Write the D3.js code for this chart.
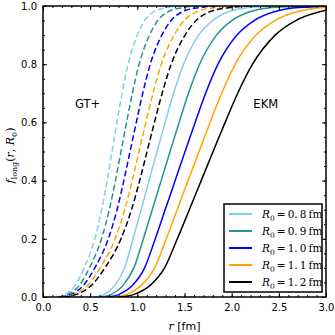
<!DOCTYPE html>
<html>
<head>
<meta charset="utf-8">
<script src="https://cdn.jsdelivr.net/npm/d3@7"></script>
<style>
  body { margin: 0; background: #fff; }
  text { font-family: "DejaVu Sans", sans-serif; }
  .math { font-family: "DejaVu Serif", serif; }
</style>
</head>
<body>
<svg id="chart"></svg>
<script>
// f values shared by every curve, r [fm] where each curve reaches them
const fLevels = [0, 0.01, 0.04, 0.1, 0.2, 0.3, 0.4, 0.5, 0.6, 0.7, 0.8, 0.9, 0.95, 0.98, 0.995, 1.0];

const radii = ["0.8", "0.9", "1.0", "1.1", "1.2"];

// GT+ (dashed)
const gt_08 = [0.146, 0.242, 0.340, 0.436, 0.549, 0.622, 0.680, 0.732, 0.784, 0.838, 0.902, 0.999, 1.077, 1.171, 1.318, 1.464];
const gt_09 = [0.165, 0.273, 0.385, 0.492, 0.620, 0.703, 0.768, 0.827, 0.886, 0.947, 1.019, 1.129, 1.217, 1.323, 1.489, 1.654];
const gt_10 = [0.185, 0.305, 0.429, 0.549, 0.692, 0.785, 0.857, 0.923, 0.989, 1.057, 1.137, 1.260, 1.358, 1.477, 1.661, 1.846];
const gt_11 = [0.204, 0.336, 0.473, 0.606, 0.764, 0.865, 0.946, 1.018, 1.090, 1.166, 1.254, 1.390, 1.497, 1.629, 1.832, 2.036];
const gt_12 = [0.221, 0.364, 0.513, 0.656, 0.827, 0.938, 1.025, 1.103, 1.181, 1.263, 1.359, 1.506, 1.623, 1.765, 1.985, 2.206];

// EKM (solid)
const ekm_08 = [0.544, 0.653, 0.762, 0.864, 0.955, 1.040, 1.124, 1.209, 1.295, 1.384, 1.490, 1.650, 1.797, 1.967, 2.176, 2.660];
const ekm_09 = [0.606, 0.727, 0.849, 0.963, 1.064, 1.158, 1.253, 1.347, 1.443, 1.542, 1.660, 1.839, 2.002, 2.192, 2.425, 2.963];
const ekm_10 = [0.678, 0.813, 0.949, 1.077, 1.190, 1.295, 1.401, 1.506, 1.613, 1.724, 1.855, 2.056, 2.238, 2.450, 2.711, 3.313];
const ekm_11 = [0.744, 0.893, 1.042, 1.183, 1.307, 1.422, 1.538, 1.654, 1.771, 1.894, 2.038, 2.258, 2.458, 2.691, 2.977, 3.639];
const ekm_12 = [0.811, 0.974, 1.136, 1.289, 1.424, 1.551, 1.677, 1.803, 1.931, 2.064, 2.221, 2.461, 2.679, 2.933, 3.245, 3.967];

const xTicks = [0, 0.5, 1.0, 1.5, 2.0, 2.5, 3.0];
const yTicks = [0, 0.2, 0.4, 0.6, 0.8, 1.0];

const colors = ["#87ceeb", "#1f968b", "#0000ff", "#ffa500", "#000000"];
const gtSeries = [gt_08, gt_09, gt_10, gt_11, gt_12];
const ekmSeries = [ekm_08, ekm_09, ekm_10, ekm_11, ekm_12];

const width = 335, height = 335;
const margin = {top: 6, right: 9, bottom: 38, left: 43};
const innerW = width - margin.left - margin.right;
const innerH = height - margin.top - margin.bottom;

const svg = d3.select("#chart").attr("width", width).attr("height", height);
const chart = svg.append("g").attr("transform", `translate(${margin.left},${margin.top})`);

const xscale = d3.scaleLinear().domain([0, 3]).range([0, innerW]);
const yscale = d3.scaleLinear().domain([0, 1]).range([innerH, 0]);

chart.append("clipPath").attr("id", "clip")
  .append("rect").attr("width", innerW).attr("height", innerH);

const line = d3.line()
  .x(d => xscale(d[0]))
  .y(d => yscale(d[1]))
  .curve(d3.curveMonotoneX);

const lines = chart.append("g").attr("clip-path", "url(#clip)");

gtSeries.forEach((rs, i) => {
  lines.append("path")
    .datum(rs.map((r, j) => [r, fLevels[j]]))
    .attr("d", line)
    .attr("fill", "none")
    .attr("stroke", colors[i])
    .attr("stroke-width", 1.5)
    .attr("stroke-dasharray", "6,3");
});

ekmSeries.forEach((rs, i) => {
  lines.append("path")
    .datum(rs.map((r, j) => [r, fLevels[j]]))
    .attr("d", line)
    .attr("fill", "none")
    .attr("stroke", colors[i])
    .attr("stroke-width", 1.5);
});

// axes, ticks point inwards on all four sides
const fmt = d3.format(".1f");
function styleAxis(g) {
  g.select(".domain").remove();
  g.selectAll(".tick line").attr("stroke", "#000");
  g.selectAll("text").attr("font-size", "10px").attr("fill", "#000");
}

chart.append("g").attr("transform", `translate(0,${innerH})`)
  .call(d3.axisBottom(xscale).tickValues(xTicks).tickSize(-4).tickPadding(7).tickFormat(fmt))
  .call(styleAxis);
chart.append("g").attr("transform", `translate(0,${innerH})`)
  .call(d3.axisBottom(xscale).ticks(30).tickSize(-2).tickFormat(""))
  .call(styleAxis);
chart.append("g")
  .call(d3.axisTop(xscale).tickValues(xTicks).tickSize(-4).tickFormat(""))
  .call(styleAxis);
chart.append("g")
  .call(d3.axisTop(xscale).ticks(30).tickSize(-2).tickFormat(""))
  .call(styleAxis);

chart.append("g")
  .call(d3.axisLeft(yscale).tickValues(yTicks).tickSize(-4).tickPadding(6).tickFormat(fmt))
  .call(styleAxis);
chart.append("g")
  .call(d3.axisLeft(yscale).ticks(20).tickSize(-2).tickFormat(""))
  .call(styleAxis);
chart.append("g").attr("transform", `translate(${innerW},0)`)
  .call(d3.axisRight(yscale).tickValues(yTicks).tickSize(-4).tickFormat(""))
  .call(styleAxis);
chart.append("g").attr("transform", `translate(${innerW},0)`)
  .call(d3.axisRight(yscale).ticks(20).tickSize(-2).tickFormat(""))
  .call(styleAxis);

chart.append("rect")
  .attr("width", innerW).attr("height", innerH)
  .attr("fill", "none").attr("stroke", "#000").attr("stroke-width", 1.5);

// axis titles
const xt = svg.append("text")
  .attr("class", "math")
  .attr("x", margin.left + innerW / 2)
  .attr("y", 330)
  .attr("text-anchor", "middle")
  .attr("font-size", "11px");
xt.append("tspan").attr("font-style", "italic").text("r");
xt.append("tspan").attr("font-family", "DejaVu Sans").text(" [fm]");

const yt = svg.append("text")
  .attr("class", "math")
  .attr("transform", `translate(14,${margin.top + innerH / 2 + 4}) rotate(-90)`)
  .attr("text-anchor", "middle")
  .attr("font-size", "11px");
yt.append("tspan").attr("font-style", "italic").text("f");
yt.append("tspan").attr("font-size", "8px").attr("dy", 3).text("long");
yt.append("tspan").attr("dy", -3).text("(");
yt.append("tspan").attr("font-style", "italic").text("r");
yt.append("tspan").text(", ");
yt.append("tspan").attr("font-style", "italic").text("R");
yt.append("tspan").attr("font-size", "8px").attr("dy", 3).text("0");
yt.append("tspan").attr("dy", -3).text(")");

// model labels
chart.append("text").attr("x", xscale(0.34)).attr("y", yscale(0.648))
  .attr("font-size", "11.5px").text("GT+");
chart.append("text").attr("x", xscale(2.23)).attr("y", yscale(0.648))
  .attr("font-size", "11.5px").text("EKM");

// legend
const legend = svg.append("g").attr("transform", "translate(224,204)");
legend.append("rect")
  .attr("width", 98).attr("height", 88)
  .attr("fill", "#fff").attr("stroke", "#000").attr("stroke-width", 1.5);

radii.forEach((r, i) => {
  const y = 10 + i * 17;
  legend.append("line")
    .attr("x1", 5).attr("x2", 28).attr("y1", y).attr("y2", y)
    .attr("stroke", colors[i]).attr("stroke-width", 2);
  const t = legend.append("text")
    .attr("class", "math")
    .attr("x", 38).attr("y", y + 4)
    .attr("font-size", "10.5px");
  t.append("tspan").attr("font-style", "italic").text("R");
  t.append("tspan").attr("font-size", "7.5px").attr("dy", 2.5).text("0");
  t.append("tspan").attr("dy", -2.5).text("\u2009=\u2009" + r.replace(".", ".\u2009") + "\u2009fm");
});
</script>
</body>
</html>
